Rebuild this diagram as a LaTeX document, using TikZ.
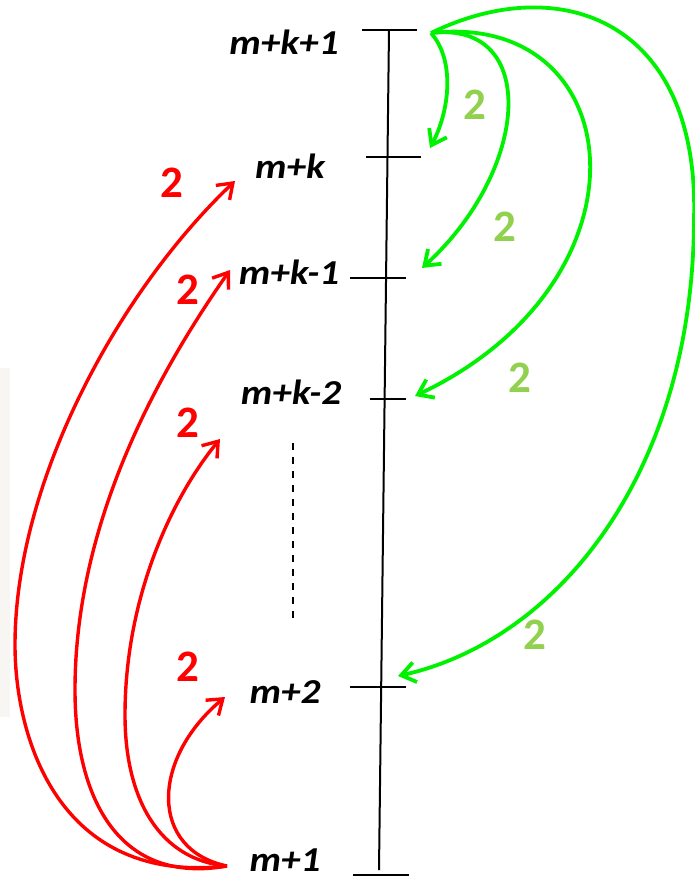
\documentclass[tikz,border=0pt]{standalone}
\usepackage{fontspec}
\setmainfont{Carlito}
\newfontfamily\lvlfont[FakeStretch=1.12]{Carlito}
\usetikzlibrary{arrows.meta}

\definecolor{arcred}{HTML}{FF0000}
\definecolor{arcgreen}{HTML}{00F200}
\definecolor{numgreen}{HTML}{92D050}
\definecolor{panelgray}{HTML}{F7F6F2}

\tikzset{
  axisline/.style={line width=2pt, black},
  lvl/.style={font=\lvlfont\fontsize{35}{40}\selectfont\bfseries\itshape, inner sep=0pt},
  cnt/.style={font=\fontsize{45}{50}\selectfont\bfseries, inner sep=0pt},
  redarc/.style={arcred, line width=3.4pt, -{Straight Barb[length=14pt,width=20pt]}},
  greenarc/.style={arcgreen, line width=3.8pt, -{Straight Barb[length=14pt,width=20pt]}}
}

\begin{document}
\begin{tikzpicture}[x=1pt, y=-1pt]
  \useasboundingbox (0,0) rectangle (694,884);

  %----- PANEL EDGE ON THE LEFT -----
  \fill[panelgray] (0,368) rectangle (10,717);

  %----- AXIS AND TICKS -----
  \coordinate (top) at (389,30);
  \coordinate (bot) at (379,870);
  \draw[axisline] (top) -- (bot);
  \draw[axisline] (362,30) -- (417,30);
  \draw[axisline] (366,157) -- (421,157);
  \draw[axisline] (350,278) -- (406,278);
  \draw[axisline] (370,399) -- (406,399);
  \draw[axisline] (350,687) -- (406,687);
  \draw[axisline] (353,875) -- (409,875);

  %----- LEVEL LABELS -----
  \node[lvl] (lk1) at (284,42) {m+k+1};
  \node[lvl] (lk0) at (290,166) {m+k};
  \node[lvl] (lkm1) at (289,272) {m+k-1};
  \node[lvl] (lkm2) at (291,392) {m+k-2};
  \node[lvl] (l2) at (285,692) {m+2};
  \node[lvl] (l1) at (285,860) {m+1};

  % dots between m+k-2 and m+2
  \draw[line width=1.4pt, dash pattern=on 7pt off 7pt] (293,443) -- (293,618);

  %----- RED ARCS FROM m+1 -----
  \coordinate (rs) at (227,866);
  \coordinate (rk0) at (235,181);
  \coordinate (rkm1) at (230,270);
  \coordinate (rkm2) at (220,439);
  \coordinate (r2) at (225,697);

  \draw[redarc] (rs) .. controls (60,885) and (15,740) .. (15,645)
                     .. controls (15,480) and (120,290) .. (rk0);
  \draw[redarc] (rs) .. controls (120,885) and (75,800) .. (75,690)
                     .. controls (75,520) and (160,370) .. (rkm1);
  \draw[redarc] (rs) .. controls (160,860) and (125,800) .. (125,715)
                     .. controls (125,600) and (170,500) .. (rkm2);
  \draw[redarc] (rs) .. controls (150,850) and (150,760) .. (r2);

  \node[cnt, arcred] (c1) at (172,183) {2};
  \node[cnt, arcred] (c2) at (188,290) {2};
  \node[cnt, arcred] (c3) at (188,423) {2};
  \node[cnt, arcred] (c4) at (188,667) {2};

  %----- GREEN ARCS FROM m+k+1 -----
  \coordinate (gs) at (431,33);
  \coordinate (gk0) at (430,148);
  \coordinate (gkm1) at (422,268);
  \coordinate (gkm2) at (415,396);
  \coordinate (g2) at (398,676);

  \draw[greenarc] (gs) .. controls (455,60) and (450,110) .. (gk0);
  \draw[greenarc] (gs) .. controls (540,20) and (530,170) .. (gkm1);
  \draw[greenarc] (gs) .. controls (630,10) and (660,280) .. (gkm2);
  \draw[greenarc] (gs) .. controls (560,-30) and (700,20) .. (694,220)
                       .. controls (693,470) and (560,640) .. (g2);

  \node[cnt, numgreen] (n1) at (475,105) {2};
  \node[cnt, numgreen] (n2) at (505,227) {2};
  \node[cnt, numgreen] (n3) at (520,378) {2};
  \node[cnt, numgreen] (n4) at (535,635) {2};

\end{tikzpicture}
\end{document}
